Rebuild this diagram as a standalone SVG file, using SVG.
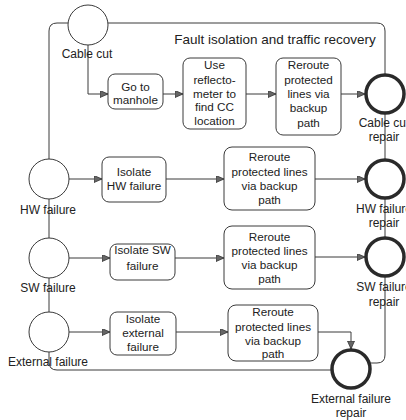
<svg xmlns="http://www.w3.org/2000/svg" width="406" height="420" viewBox="0 0 406 420">
  <style>
    .task { fill: #ffffff; stroke: #3a3a3a; stroke-width: 1; }
    .start { fill: #ffffff; stroke: #3a3a3a; stroke-width: 1; }
    .end { fill: #ffffff; stroke: #2a2a2a; stroke-width: 3.5; }
    .flow { fill: none; stroke: #3a3a3a; stroke-width: 1; }
    .arrow { marker-end: url(#head); }
    text { font-family: "Liberation Sans", Arial, sans-serif; fill: #222222; text-anchor: middle; }
    .t { font-size: 11.7px; }
    .lbl { font-size: 12px; }
    .title { font-size: 13.5px; }
  </style>
  <defs>
    <marker id="head" markerUnits="userSpaceOnUse" markerWidth="9" markerHeight="8" refX="8" refY="3.5" orient="auto">
      <path d="M0,0 L8,3.5 L0,7 Z" fill="#666666" stroke="#333333" stroke-width="0.8"/>
    </marker>
  </defs>
  <rect width="406" height="420" fill="#ffffff"/>

  <!-- connectors -->
  <g id="connectors">
    <path class="flow arrow" d="M88,45 V94 H108"/>
    <path class="flow arrow" d="M163,94 H183"/>
    <path class="flow arrow" d="M246,94 H276"/>
    <path class="flow arrow" d="M341,94 H365"/>
    <path class="flow" d="M68,23 H57 Q49,23 49,31 V159"/>
    <path class="flow" d="M108,23 H377 Q385,23 385,31 V74"/>
    <path class="flow" d="M385,114 V159"/>
    <path class="flow" d="M385,199 V237"/>
    <path class="flow" d="M385,277 V355 Q385,363 377,363 H370"/>
    <path class="flow arrow" d="M69,179 H102"/>
    <path class="flow arrow" d="M166,179 H224"/>
    <path class="flow arrow" d="M315,179 H365"/>
    <path class="flow" d="M49,199 V238"/>
    <path class="flow arrow" d="M69,258 H110"/>
    <path class="flow arrow" d="M175,258 H224"/>
    <path class="flow arrow" d="M315,257 H365"/>
    <path class="flow" d="M49,278 V312"/>
    <path class="flow arrow" d="M69,332 H110"/>
    <path class="flow arrow" d="M176,332 H228"/>
    <path class="flow arrow" d="M318,332 H351 V349"/>
    <path class="flow" d="M49,352 V362 Q49,370 57,370 H331"/>
  </g>

  <text class="title" x="275" y="44">Fault isolation and traffic recovery</text>

  <!-- start events -->
  <g id="cable-cut">
    <circle class="start" cx="88" cy="25" r="20"/>
    <text class="lbl" x="87" y="58">Cable cut</text>
  </g>
  <g id="hw-failure">
    <circle class="start" cx="49" cy="179" r="20"/>
    <text class="lbl" x="48" y="214">HW failure</text>
  </g>
  <g id="sw-failure">
    <circle class="start" cx="49" cy="258" r="20"/>
    <text class="lbl" x="48" y="292">SW failure</text>
  </g>
  <g id="external-failure">
    <circle class="start" cx="49" cy="332" r="20"/>
    <text class="lbl" x="48" y="366">External failure</text>
  </g>

  <!-- tasks -->
  <g id="go-to-manhole">
    <rect class="task" x="108" y="74" width="55" height="35" rx="7"/>
    <text class="t" x="135.5" y="91">Go to</text>
    <text class="t" x="135.5" y="104">manhole</text>
  </g>
  <g id="use-reflectometer">
    <rect class="task" x="183" y="58" width="63" height="71" rx="7"/>
    <text class="t" x="214.5" y="69">Use</text>
    <text class="t" x="214.5" y="84">reflecto-</text>
    <text class="t" x="214.5" y="98">meter to</text>
    <text class="t" x="214.5" y="111">find CC</text>
    <text class="t" x="214.5" y="125">location</text>
  </g>
  <g id="reroute-cable">
    <rect class="task" x="276" y="58" width="65" height="77" rx="7"/>
    <text class="t" x="308.5" y="69">Reroute</text>
    <text class="t" x="308.5" y="84">protected</text>
    <text class="t" x="308.5" y="98">lines via</text>
    <text class="t" x="308.5" y="112">backup</text>
    <text class="t" x="308.5" y="127">path</text>
  </g>
  <g id="isolate-hw">
    <rect class="task" x="102" y="157" width="64" height="45" rx="7"/>
    <text class="t" x="134" y="176">Isolate</text>
    <text class="t" x="134" y="190">HW failure</text>
  </g>
  <g id="reroute-hw">
    <rect class="task" x="224" y="147" width="91" height="63" rx="8"/>
    <text class="t" x="269.5" y="161">Reroute</text>
    <text class="t" x="269.5" y="176">protected lines</text>
    <text class="t" x="269.5" y="190">via backup</text>
    <text class="t" x="269.5" y="204">path</text>
  </g>
  <g id="isolate-sw">
    <rect class="task" x="110" y="244" width="65" height="36" rx="7"/>
    <text class="t" x="142.5" y="254">Isolate SW</text>
    <text class="t" x="142.5" y="270">failure</text>
  </g>
  <g id="reroute-sw">
    <rect class="task" x="224" y="226" width="91" height="63" rx="8"/>
    <text class="t" x="269.5" y="241">Reroute</text>
    <text class="t" x="269.5" y="255">protected lines</text>
    <text class="t" x="269.5" y="269">via backup</text>
    <text class="t" x="269.5" y="283">path</text>
  </g>
  <g id="isolate-external">
    <rect class="task" x="110" y="312" width="66" height="43" rx="7"/>
    <text class="t" x="143" y="323">Isolate</text>
    <text class="t" x="143" y="337">external</text>
    <text class="t" x="143" y="351">failure</text>
  </g>
  <g id="reroute-external">
    <rect class="task" x="228" y="305" width="90" height="56" rx="8"/>
    <text class="t" x="273" y="316">Reroute</text>
    <text class="t" x="273" y="331">protected lines</text>
    <text class="t" x="273" y="345">via backup</text>
    <text class="t" x="273" y="358">path</text>
  </g>

  <!-- end events -->
  <g id="cable-cut-repair">
    <circle class="end" cx="385" cy="94" r="19"/>
    <text class="lbl" x="384" y="127">Cable cut</text>
    <text class="lbl" x="384" y="141">repair</text>
  </g>
  <g id="hw-failure-repair">
    <circle class="end" cx="385" cy="179" r="19"/>
    <text class="lbl" x="384" y="213">HW failure</text>
    <text class="lbl" x="384" y="227">repair</text>
  </g>
  <g id="sw-failure-repair">
    <circle class="end" cx="385" cy="257" r="19"/>
    <text class="lbl" x="384" y="291">SW failure</text>
    <text class="lbl" x="384" y="306">repair</text>
  </g>
  <g id="external-failure-repair">
    <circle class="end" cx="351" cy="369" r="19"/>
    <text class="lbl" x="351" y="403">External failure</text>
    <text class="lbl" x="351" y="417">repair</text>
  </g>
</svg>
